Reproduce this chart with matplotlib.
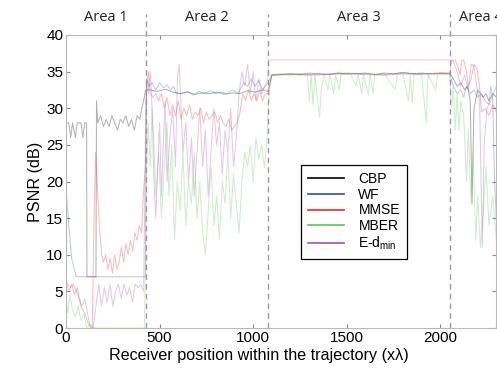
import matplotlib.pyplot as plt

# PSNR traces along the receiver trajectory (x, dB)
cbp = [(0, 28), (15, 28), (25, 26), (35, 28), (50, 26), (60, 28), (80, 28), (90, 26), (100, 28),
       (110, 28), (112, 7), (160, 7), (163, 31), (170, 28), (185, 29), (200, 27.5), (215, 28.5),
       (230, 27.5), (245, 29), (260, 28), (275, 27), (290, 28.5), (305, 28), (320, 29), (335, 27.5),
       (350, 28.5), (365, 27), (380, 29), (395, 28.5), (405, 30), (415, 31), (425, 32.5),
       (450, 32.5), (490, 32.3), (530, 32.6), (570, 32.2), (610, 32.0), (650, 32.2), (690, 31.9),
       (730, 32.1), (770, 32.0), (810, 32.2), (850, 31.9), (890, 32.1), (930, 32.0), (970, 32.4),
       (1010, 32.2), (1050, 32.5), (1080, 32.3),
       (1090, 33.5), (1100, 34.5), (1150, 34.6), (1200, 34.7), (1250, 34.6), (1300, 34.8),
       (1350, 34.7), (1400, 34.6), (1450, 34.8), (1500, 34.7), (1550, 34.7), (1600, 34.8),
       (1650, 34.6), (1700, 34.8), (1750, 34.7), (1800, 34.9), (1850, 34.7), (1900, 34.8),
       (1950, 34.7), (2000, 34.8), (2050, 34.8),
       (2070, 34), (2090, 33), (2110, 33.5), (2130, 32.5), (2145, 33), (2160, 31), (2170, 17),
       (2180, 30), (2200, 32.5), (2215, 32), (2230, 31.5), (2245, 32), (2260, 31), (2280, 32),
       (2300, 31.5)]

wf = [(0, 28), (3, 18), (15, 14), (30, 9.5), (55, 7), (425, 7),
      (430, 34), (445, 33), (460, 33.5), (480, 32.5), (500, 33.5), (520, 32.8), (540, 33.2),
      (560, 32.5), (575, 33), (590, 32), (620, 32), (650, 32.3), (680, 31.8), (710, 32.3),
      (740, 32), (770, 32.4), (800, 32), (830, 32.2), (860, 32), (890, 32.5), (920, 32),
      (950, 33.5), (970, 33), (990, 34), (1010, 33), (1030, 33.8), (1050, 32.5), (1080, 33.5),
      (1100, 34.6), (1200, 34.7), (1300, 34.6), (1400, 34.7), (1500, 34.8), (1600, 34.7),
      (1700, 34.6), (1800, 34.8), (1900, 34.7), (2000, 34.8), (2050, 34.7),
      (2070, 33), (2090, 32), (2110, 32.5), (2125, 31.5), (2140, 33), (2160, 32), (2180, 32.5),
      (2200, 31.5), (2220, 32), (2240, 31), (2260, 30.5), (2270, 33), (2280, 31.5), (2290, 20),
      (2300, 15)]

mmse = [(0, 6.5), (15, 5), (30, 6), (45, 4.5), (60, 5.5), (80, 3), (100, 2), (120, 0.5), (140, 0),
        (150, 15), (158, 24), (166, 20), (178, 14), (190, 10), (200, 9), (212, 10), (224, 8),
        (236, 9.5), (248, 7.5), (260, 10), (272, 8), (284, 9), (296, 11), (308, 9), (320, 11.5),
        (332, 10), (344, 12), (356, 10.5), (368, 13), (380, 12), (392, 14), (404, 13), (415, 19),
        (425, 22),
        (430, 33), (440, 35), (450, 32), (465, 31.5), (480, 32), (495, 31), (510, 32), (525, 30),
        (540, 31.5), (555, 29), (570, 30.5), (585, 29), (600, 31), (615, 28.5), (630, 30),
        (645, 29), (660, 30.5), (675, 28.5), (690, 29.5), (705, 29), (720, 30), (735, 28),
        (750, 29.5), (765, 28.5), (780, 29), (795, 29.5), (810, 28), (825, 29), (840, 28),
        (855, 27.5), (870, 28.5), (885, 27), (900, 27.5), (915, 28), (930, 29.5), (945, 32),
        (960, 31), (975, 32.5), (990, 31), (1005, 32), (1020, 31), (1035, 32.5), (1050, 31),
        (1065, 32), (1080, 32),
        (1100, 34.5), (1200, 34.6), (1300, 34.5), (1400, 34.6), (1500, 34.7), (1600, 34.6),
        (1700, 34.5), (1800, 34.7), (1900, 34.6), (2000, 34.7), (2050, 34.7),
        (2060, 36.5), (2080, 36.6), (2095, 35.5), (2105, 34.5), (2115, 36.5), (2125, 36.6),
        (2140, 35), (2150, 33), (2165, 34), (2180, 36), (2195, 35.5), (2210, 33), (2220, 29.5),
        (2240, 30), (2260, 29), (2280, 30.5), (2300, 29.5)]

mber = [(0, 4), (10, 2), (20, 4.5), (35, 2.5), (50, 1.5), (65, 3), (80, 1), (95, 2), (110, 0),
        (130, 0.5), (150, 0), (420, 0),
        (428, 20), (440, 28), (450, 22), (460, 30), (470, 25), (480, 18), (495, 24), (510, 15),
        (525, 22), (540, 28), (550, 18), (565, 25), (580, 12), (595, 20), (610, 16), (625, 24),
        (640, 14), (655, 20), (670, 17), (685, 24), (700, 15), (715, 20), (730, 13), (745, 10),
        (760, 16), (775, 22), (790, 14), (805, 18), (820, 12), (835, 20), (850, 17), (865, 24),
        (880, 15), (895, 21), (910, 17), (925, 13), (940, 20), (955, 24), (970, 22), (985, 25),
        (1000, 20), (1015, 26), (1030, 23), (1045, 25), (1060, 22), (1075, 26),
        (1080, 30), (1090, 33), (1100, 34.5), (1150, 34.7), (1200, 34.5), (1250, 34.7),
        (1290, 34.6), (1300, 31), (1310, 34.5), (1320, 30.5), (1330, 34.5), (1345, 31),
        (1355, 28.8), (1365, 33), (1380, 34.5), (1400, 32.5), (1410, 34.6), (1430, 32),
        (1440, 34.6), (1460, 32.5), (1470, 34.6), (1520, 34.7), (1550, 33), (1560, 34.7),
        (1580, 32), (1590, 34.6), (1615, 31.8), (1625, 34.6), (1640, 32), (1650, 34.6),
        (1700, 34.7), (1760, 32.5), (1770, 34.6), (1800, 34.7), (1830, 31), (1840, 34.6),
        (1850, 30.8), (1860, 34.6), (1900, 34.7), (1925, 28), (1935, 34.6), (1975, 32.5),
        (1985, 34.6), (2050, 34.7),
        (2060, 30), (2070, 33), (2080, 27), (2090, 32), (2100, 27), (2110, 31), (2125, 29),
        (2140, 20), (2150, 27), (2165, 17), (2175, 24), (2190, 12), (2200, 18), (2215, 11),
        (2230, 16), (2245, 22), (2260, 14), (2280, 18), (2300, 12)]

edmin = [(0, 6.5), (10, 6), (25, 5.5), (40, 6), (55, 5), (70, 4), (85, 3), (100, 4), (115, 2),
         (130, 0), (145, 0), (160, 3), (175, 6), (190, 3), (205, 5.5), (220, 3.5), (235, 6),
         (250, 3), (265, 5), (280, 6), (295, 4), (310, 6), (325, 4.5), (340, 5.5), (355, 3.5),
         (370, 6), (385, 5.5), (400, 6), (415, 5),
         (425, 28), (432, 34), (440, 32), (450, 35), (460, 30), (470, 20), (480, 15), (490, 22),
         (500, 28), (510, 18), (520, 25), (530, 31), (540, 20), (555, 26), (570, 30), (585, 22),
         (595, 34), (605, 36), (615, 30), (625, 24), (640, 28), (655, 20), (670, 26), (685, 18),
         (700, 24), (715, 30), (730, 22), (745, 27), (760, 18), (775, 24), (790, 30), (805, 25),
         (820, 28), (835, 21), (850, 27), (865, 24), (880, 30), (895, 22), (910, 26), (925, 32),
         (940, 35), (955, 33), (970, 36), (985, 32), (1000, 35), (1015, 31), (1030, 34),
         (1045, 32), (1060, 33), (1078, 34),
         (1082, 36.6), (2050, 36.6),
         (2070, 36.4), (2090, 35), (2110, 33), (2130, 34.5), (2150, 32.5), (2165, 36),
         (2180, 35.8), (2195, 33), (2210, 31), (2225, 11), (2235, 25), (2250, 30), (2270, 31),
         (2285, 32), (2300, 33)]

area_bounds = [425, 1080, 2050]
area_names = ['Area 1', 'Area 2', 'Area 3', 'Area 4']
area_centers = [212, 752, 1565, 2215]

series = [('CBP', cbp, 'black'), ('WF', wf, '#2a4ea8'), ('MMSE', mmse, '#e8282a'),
          ('MBER', mber, '#5cc45c'), ('E-d$_\\mathregular{min}$', edmin, '#a050a8')]

plt.rcParams['font.family'] = ['Liberation Sans', 'DejaVu Sans']

fig = plt.figure(figsize=(4.97, 3.75), dpi=100)
ax = fig.add_axes([0.1328, 0.1253, 0.866, 0.7814])

for name, pts, col in series:
    xs = [p[0] for p in pts]
    ys = [p[1] for p in pts]
    ax.plot(xs, ys, color=col, lw=0.75, alpha=0.3, label=name)

for b in area_bounds:
    ax.plot([b, b], [0, 42.8], ls=(0, (4, 3)), color='#999999', lw=1.0, clip_on=False)

# "Area 4" is cut by the right edge in the original too
for name, c in zip(area_names, area_centers):
    ax.text(c, 42.4, name, ha='center', va='center', fontsize=10.5,
            family=['Open Sans', 'DejaVu Sans'], color='#222222', clip_on=False)

ax.set_xlim(0, 2300)
ax.set_ylim(0, 40)
ax.set_xticks([0, 500, 1000, 1500, 2000])
ax.set_yticks(range(0, 41, 5))
ax.tick_params(direction='in', length=3, top=True, right=True, labelsize=11,
               color='#888888', pad=2)
for s in ax.spines.values():
    s.set_color('#b8b8b8')
    s.set_linewidth(0.8)

ax.set_xlabel('Receiver position within the trajectory (x\u03bb)', fontsize=11.6)
ax.xaxis.set_label_coords(0.447, -0.068)
ax.set_ylabel('PSNR (dB)', fontsize=11.6, labelpad=2)

leg = ax.legend(loc='upper left', bbox_to_anchor=(0.547, 0.556), fontsize=10,
                fancybox=False, edgecolor='black', framealpha=1, handlelength=2.6,
                borderpad=0.5, labelspacing=0.12, handletextpad=1.0, borderaxespad=0)
leg.get_frame().set_linewidth(0.9)
for ln in leg.get_lines():
    ln.set_alpha(1)
    ln.set_linewidth(1.2)

fig.savefig('out.png', dpi=100)
